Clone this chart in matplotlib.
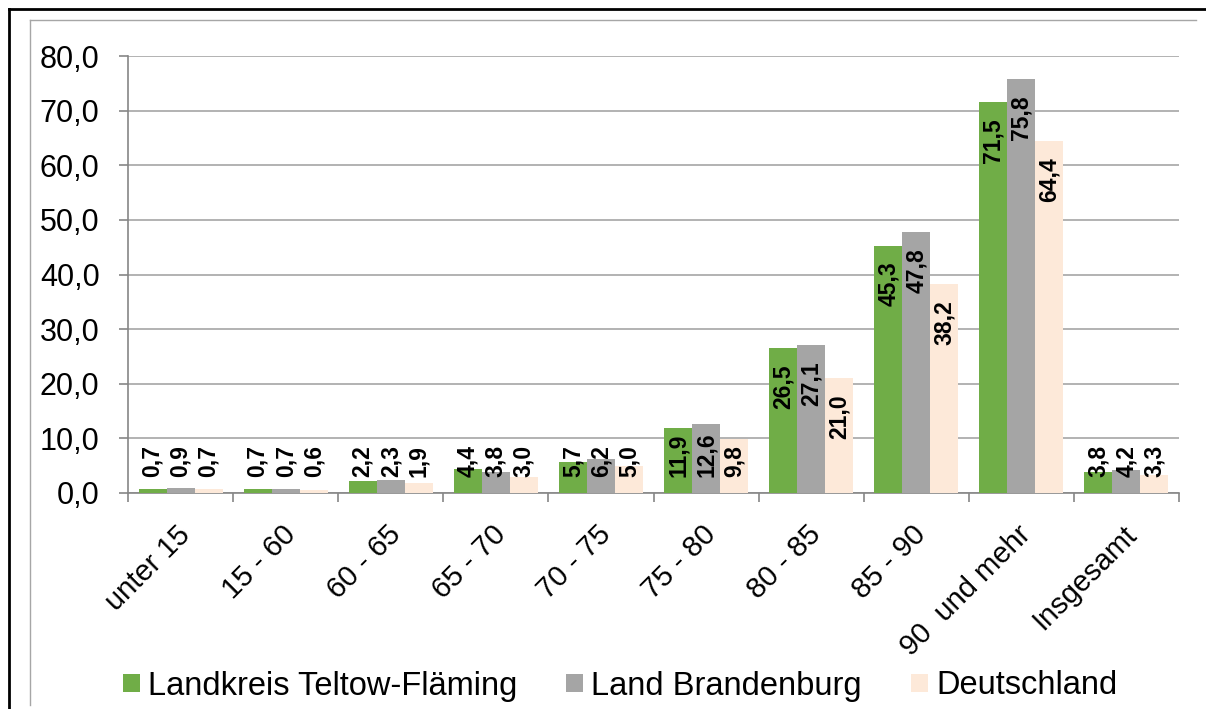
import matplotlib
matplotlib.use("Agg")
import matplotlib.pyplot as plt
from matplotlib.patches import Patch
from matplotlib.lines import Line2D
import numpy as np

plt.rcParams['font.family'] = ['Liberation Sans', 'DejaVu Sans']

categories = ["unter 15", "15 - 60", "60 - 65", "65 - 70", "70 - 75",
              "75 - 80", "80 - 85", "85 - 90", "90  und mehr", "Insgesamt"]
series_names = ["Landkreis Teltow-Fläming", "Land Brandenburg", "Deutschland"]
teltow = [0.7, 0.7, 2.2, 4.4, 5.7, 11.9, 26.5, 45.3, 71.5, 3.8]
brandenburg = [0.9, 0.7, 2.3, 3.8, 6.2, 12.6, 27.1, 47.8, 75.8, 4.2]
deutschland = [0.7, 0.6, 1.9, 3.0, 5.0, 9.8, 21.0, 38.2, 64.4, 3.3]
y_ticks = [0, 10, 20, 30, 40, 50, 60, 70, 80]

colors = ["#70AD47", "#A5A5A5", "#FDE9D9"]
all_series = [teltow, brandenburg, deutschland]

W, H, DPI = 1206, 709, 100
fig = plt.figure(figsize=(W / DPI, H / DPI), dpi=DPI)
ax = fig.add_axes([128 / W, 1 - 493 / H, (1179 - 128) / W, (493 - 56) / H])

x = np.arange(len(categories))
bw = 0.8 / 3
for i, (vals, col) in enumerate(zip(all_series, colors)):
    pos = x + (i - 1) * bw
    ax.bar(pos, vals, width=bw, color=col, edgecolor='none', zorder=3)
    for xp, v in zip(pos, vals):
        lbl = f"{v:.1f}".replace(".", ",")
        if v >= 14:
            ax.annotate(lbl, xy=(xp, v), xytext=(0, -11.5), textcoords='offset points',
                        rotation=90, ha='center', va='top', fontsize=16.5,
                        fontweight='bold', zorder=5)
        else:
            ax.annotate(lbl, xy=(xp, 0), xytext=(0, 11.5), textcoords='offset points',
                        rotation=90, ha='center', va='bottom', fontsize=16.5,
                        fontweight='bold', zorder=5)

ax.set_xlim(-0.5, len(categories) - 0.5)
ax.set_ylim(0, 80)
ax.set_yticks(y_ticks)
ax.set_yticklabels([f"{t:.1f}".replace(".", ",") for t in y_ticks], fontsize=22)
ax.yaxis.grid(True, color="#A6A6A6", linewidth=1.2, zorder=0)
ax.set_axisbelow(True)

ax.set_xticks(x)
ax.set_xticklabels([])
ax.set_xticks(np.arange(-0.5, len(categories), 1.0), minor=True)
ax.tick_params(axis='x', which='major', length=0)
ax.tick_params(axis='x', which='minor', length=6.5, color="#868686", width=1.2)
ax.tick_params(axis='y', length=6.5, color="#868686", width=1.2, pad=14)

for xi, name in zip(x, categories):
    ax.annotate(name, xy=(xi, 0), xytext=(4, -27), textcoords='offset points',
                rotation=45, rotation_mode='anchor', ha='right', va='center',
                fontsize=21)

for side in ['top', 'right']:
    ax.spines[side].set_visible(False)
for side in ['left', 'bottom']:
    ax.spines[side].set_color("#868686")
    ax.spines[side].set_linewidth(1.2)

handles = [Patch(facecolor=c, edgecolor='none') for c in colors]
fig.legend(handles, series_names, loc='center', bbox_to_anchor=(620 / W, 1 - 686 / H),
           ncol=3, frameon=False, fontsize=23.5, handlelength=0.52, handleheight=0.5,
           handletextpad=0.25, columnspacing=1.5, borderaxespad=0)

# outer frame (black) and inner chart-area frame (grey)
fig.add_artist(Line2D([9 / W, 1], [1 - 9 / H, 1 - 9 / H], color='black', linewidth=2))
fig.add_artist(Line2D([9 / W, 9 / W], [0, 1 - 9 / H], color='black', linewidth=2))
fig.add_artist(Line2D([30 / W, 1196 / W], [1 - 20 / H, 1 - 20 / H], color='#A6A6A6', linewidth=1))
fig.add_artist(Line2D([30 / W, 30 / W], [1 - 705 / H, 1 - 20 / H], color='#A6A6A6', linewidth=1))

fig.savefig("out.png", dpi=DPI)
